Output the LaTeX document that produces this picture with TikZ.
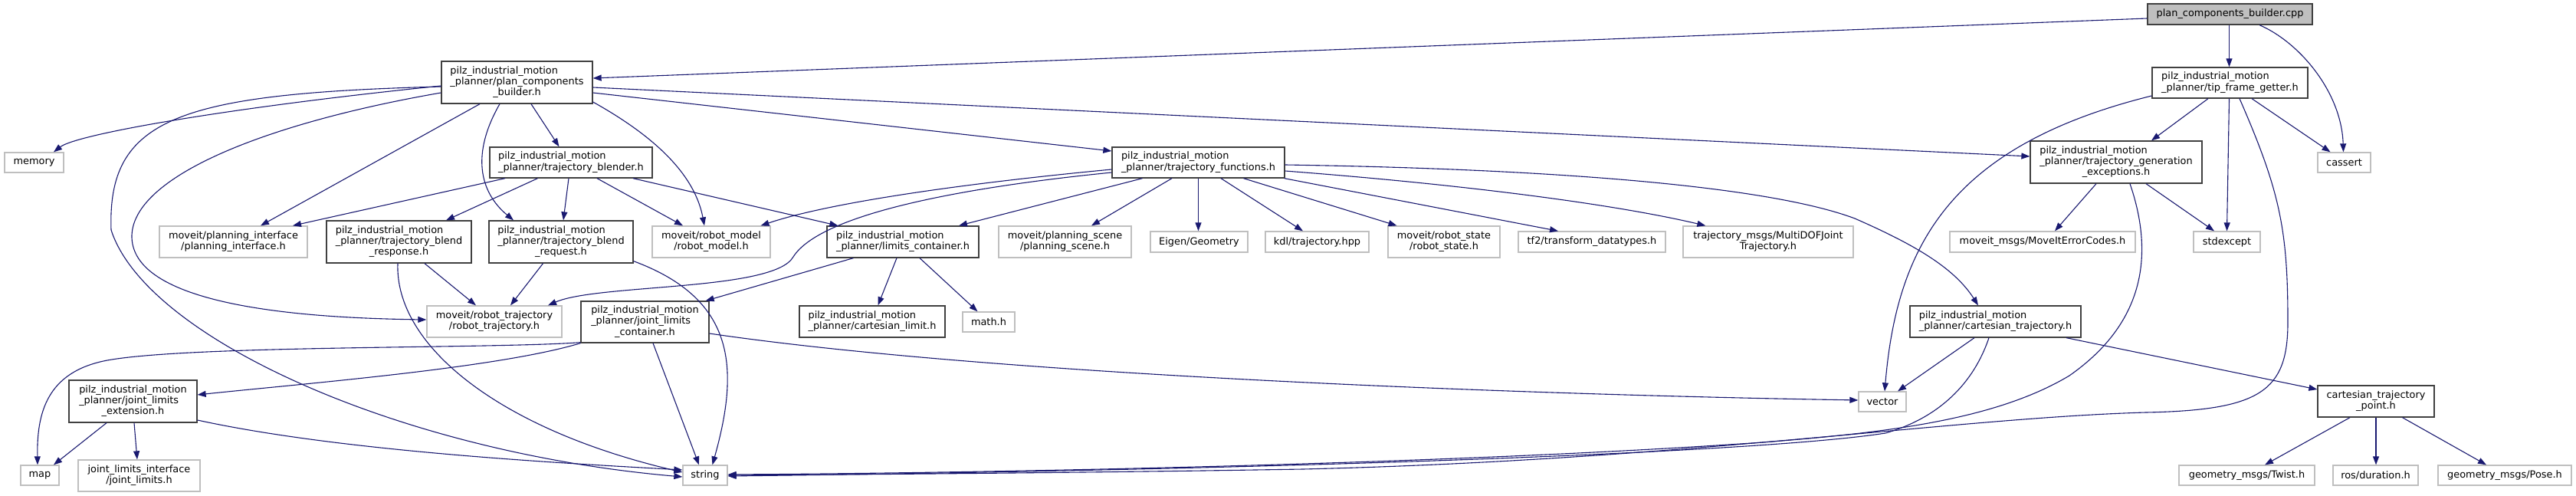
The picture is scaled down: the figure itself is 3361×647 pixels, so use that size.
\documentclass[tikz,border=0pt]{standalone}
\usepackage{fontspec}
\setmainfont{DejaVu Sans}
\usetikzlibrary{arrows.meta}
\definecolor{edgec}{HTML}{191970}
\definecolor{extc}{HTML}{BFBFBF}
\definecolor{docc}{HTML}{404040}
\newcommand\tl[2]{\begin{tabular}{@{}l@{}}#1\\\multicolumn{1}{@{}c@{}}{#2}\end{tabular}}
\newcommand\cl[2]{\begin{tabular}{@{}c@{}}#1\\#2\end{tabular}}
\begin{document}
\begin{tikzpicture}[x=1pt,y=-1pt,
  box/.style={rectangle,inner sep=0pt,fill=white,line width=1.3pt,
    font=\fontsize{12.9}{14.3}\selectfont},
  dnode/.style={box,draw=docc},
  xnode/.style={box,draw=extc},
  cnode/.style={box,draw=docc,fill=extc},
  wh/.style 2 args={minimum width=#1,minimum height=#2},
  edge/.style={draw=edgec,line width=1.1pt,-{Triangle[length=11pt,width=8pt]},fill=none}]
\useasboundingbox (0,0) rectangle (3361,647);
% nodes
\node[cnode,wh={215}{27}] (cpp) at (2909.5,18.5) {plan\_components\_builder.cpp};
\node[dnode,wh={197}{55}] (pcb) at (674.5,107.5) {\tl{pilz\_industrial\_motion\\\_planner/plan\_components}{\_builder.h}};
\node[dnode,wh={203}{40}] (tip) at (2909.5,108) {\tl{pilz\_industrial\_motion}{\_planner/tip\_frame\_getter.h}};
\node[xnode,wh={77}{26}] (memory) at (44.5,212) {memory};
\node[dnode,wh={212}{40}] (blender) at (745,212) {\tl{pilz\_industrial\_motion}{\_planner/trajectory\_blender.h}};
\node[dnode,wh={225}{40}] (tfunc) at (1563.5,212) {\tl{pilz\_industrial\_motion}{\_planner/trajectory\_functions.h}};
\node[dnode,wh={224}{55}] (genexc) at (2761,211.5) {\tl{pilz\_industrial\_motion\\\_planner/trajectory\_generation}{\_exceptions.h}};
\node[xnode,wh={69}{26}] (cassert) at (3058.5,212) {cassert};
\node[xnode,wh={193}{41}] (planint) at (304.5,315.5) {\cl{moveit/planning\_interface}{/planning\_interface.h}};
\node[dnode,wh={189}{55}] (bresp) at (520.5,315.5) {\tl{pilz\_industrial\_motion\\\_planner/trajectory\_blend}{\_response.h}};
\node[dnode,wh={188}{55}] (breq) at (732,315.5) {\tl{pilz\_industrial\_motion\\\_planner/trajectory\_blend}{\_request.h}};
\node[xnode,wh={154}{41}] (robmodel) at (928,315.5) {\cl{moveit/robot\_model}{/robot\_model.h}};
\node[dnode,wh={198}{41}] (limcont) at (1178,315.5) {\tl{pilz\_industrial\_motion}{\_planner/limits\_container.h}};
\node[xnode,wh={173}{41}] (planscene) at (1389.5,315.5) {\cl{moveit/planning\_scene}{/planning\_scene.h}};
\node[xnode,wh={127}{27}] (eigen) at (1564.5,315.5) {Eigen/Geometry};
\node[xnode,wh={135}{27}] (kdl) at (1718.5,315.5) {kdl/trajectory.hpp};
\node[xnode,wh={146}{41}] (robstate) at (1884,315.5) {\cl{moveit/robot\_state}{/robot\_state.h}};
\node[xnode,wh={192}{27}] (tf2) at (2077,315.5) {tf2/transform\_datatypes.h};
\node[xnode,wh={222}{41}] (trajmsgs) at (2307,315.5) {\cl{trajectory\_msgs/MultiDOFJoint}{Trajectory.h}};
\node[xnode,wh={242}{27}] (moveiterr) at (2665,315.5) {moveit\_msgs/MoveItErrorCodes.h};
\node[xnode,wh={87}{27}] (stdexcept) at (2905.5,315.5) {stdexcept};
\node[xnode,wh={176}{41}] (robtraj) at (645,419.5) {\cl{moveit/robot\_trajectory}{/robot\_trajectory.h}};
\node[dnode,wh={167}{54}] (jlcont) at (841.5,420) {\tl{pilz\_industrial\_motion\\\_planner/joint\_limits}{\_container.h}};
\node[dnode,wh={190}{41}] (cartlimit) at (1138,419.5) {\tl{pilz\_industrial\_motion}{\_planner/cartesian\_limit.h}};
\node[xnode,wh={68}{26}] (math) at (1290,420) {math.h};
\node[dnode,wh={223}{41}] (carttraj) at (2603.5,419.5) {\tl{pilz\_industrial\_motion}{\_planner/cartesian\_trajectory.h}};
\node[dnode,wh={167}{55}] (jlext) at (173.5,523.5) {\tl{pilz\_industrial\_motion\\\_planner/joint\_limits}{\_extension.h}};
\node[xnode,wh={62}{26}] (vector) at (2456,524) {vector};
\node[dnode,wh={152}{41}] (ctpoint) at (3100,523.5) {\tl{cartesian\_trajectory}{\_point.h}};
\node[xnode,wh={50}{26}] (map) at (52,620) {map};
\node[xnode,wh={159}{41}] (jlimits) at (181.5,620.5) {\cl{joint\_limits\_interface}{/joint\_limits.h}};
\node[xnode,wh={58}{26}] (string) at (920,620) {string};
\node[xnode,wh={177}{26}] (twist) at (2931.5,620) {geometry\_msgs/Twist.h};
\node[xnode,wh={111}{26}] (duration) at (3099.5,620) {ros/duration.h};
\node[xnode,wh={174}{26}] (pose) at (3268,620) {geometry\_msgs/Pose.h};
% edges
\path[edge] ([yshift=-5.5]cpp.west) -- ([yshift=5.5]pcb.east);
\path[edge] ([xshift=-1]cpp.south) -- ([xshift=-1]tip.north);
\path[edge] ([xshift=38.5]cpp.south) .. controls (3000,55) and (3055,120) .. ([xshift=-1]cassert.north);
\path[edge] ([yshift=-4.5]pcb.west) .. controls (300,140) and (100,175) .. ([xshift=25.5]memory.north);
\path[edge] ([yshift=-5.5]pcb.west) .. controls (230,122) and (140,155) .. (145,300) .. controls (190,440) and (520,590) .. ([yshift=-2]string.west);
\path[edge] ([yshift=-13.5]pcb.west) .. controls (350,160) and (170,230) .. (172,310) .. controls (175,400) and (400,415) .. ([yshift=2.5]robtraj.west);
\path[edge] ([xshift=-48.5]pcb.south) -- ([xshift=35.5]planint.north);
\path[edge] ([xshift=-22.5]pcb.south) .. controls (615,200) and (625,250) .. ([xshift=-62]breq.north);
\path[edge] ([xshift=18.5]pcb.south) -- ([xshift=-15.5]blender.north);
\path[edge] ([yshift=-25.5]pcb.east) .. controls (840,170) and (905,220) .. ([xshift=-9]robmodel.north);
\path[edge] ([yshift=-13.5]pcb.east) -- ([yshift=15]tfunc.west);
\path[edge] ([yshift=-6.5]pcb.east) -- ([yshift=7.5]genexc.west);
\path[edge] ([xshift=-86]blender.south) -- ([xshift=77.5]planint.north);
\path[edge] ([xshift=-43.5]blender.south) -- ([xshift=61.5]bresp.north);
\path[edge] ([xshift=-3]blender.south) -- ([xshift=3]breq.north);
\path[edge] ([xshift=34]blender.south) -- ([xshift=-37]robmodel.north);
\path[edge] ([xshift=81]blender.south) -- ([xshift=15]limcont.north west);
\path[edge] ([xshift=33.5]bresp.south) -- ([xshift=-24]robtraj.north);
\path[edge] ([xshift=-1.5]bresp.south) .. controls (515,450) and (650,560) .. ([yshift=4]string.west);
\path[edge] ([xshift=-23.5]breq.south) -- ([xshift=21]robtraj.north);
\path[edge] ([yshift=3]breq.south east) .. controls (960,390) and (965,480) .. ([xshift=9.5]string.north);
\path[edge] ([xshift=-73]tfunc.south) -- ([xshift=73]limcont.north);
\path[edge] ([xshift=-34.5]tfunc.south) -- ([xshift=34.5]planscene.north);
\path[edge] (tfunc.south) -- ([xshift=-1]eigen.north);
\path[edge] ([xshift=29.5]tfunc.south) -- ([xshift=-18.5]kdl.north);
\path[edge] ([xshift=59]tfunc.south) -- ([xshift=-61.5]robstate.north);
\path[edge] ([xshift=-1]tfunc.south east) -- ([xshift=-44]tf2.north);
\path[edge] ([yshift=-11]tfunc.east) .. controls (1900,240) and (2100,265) .. ([xshift=30]trajmsgs.north west);
\path[edge] ([yshift=-3]tfunc.east) .. controls (2000,220) and (2300,240) .. (2420,285) .. controls (2500,320) and (2550,350) .. ([xshift=-22.5]carttraj.north);
\path[edge] ([yshift=-9]tfunc.west) .. controls (1250,240) and (1080,265) .. ([xshift=64.5]robmodel.north);
\path[edge] ([yshift=-13]tfunc.west) .. controls (1250,245) and (1070,280) .. (1035,335) .. controls (1010,380) and (780,370) .. ([xshift=70]robtraj.north);
\path[edge] ([xshift=35]limcont.south west) -- ([xshift=-5]jlcont.north east);
\path[edge] ([xshift=-8]limcont.south) -- ([xshift=7.5]cartlimit.north);
\path[edge] ([xshift=22]limcont.south) -- ([xshift=-14.5]math.north);
\path[edge] (jlcont.south west) .. controls (650,480) and (400,500) .. ([yshift=8.5]jlext.east);
\path[edge] ([yshift=1]jlcont.south west) .. controls (650,455) and (250,450) .. (140,470) .. controls (60,485) and (48,540) .. ([xshift=-3]map.north);
\path[edge] ([xshift=10.5]jlcont.south) -- ([xshift=-8]string.north);
\path[edge] ([yshift=-15]jlcont.east) .. controls (1300,490) and (2000,515) .. ([yshift=2]vector.west);
\path[edge] ([xshift=-34.5]jlext.south) -- ([xshift=18]map.north);
\path[edge] ([xshift=1.5]jlext.south) -- ([xshift=-2.5]jlimits.north);
\path[edge] ([yshift=-24.5]jlext.east) .. controls (450,590) and (750,605) .. ([yshift=7]string.west);
\path[edge] ([xshift=-28.5]tip.south) -- ([xshift=46]genexc.north);
\path[edge] ([xshift=-1]tip.south) -- (stdexcept.north);
\path[edge] ([xshift=28.5]tip.south) -- ([xshift=-18]cassert.north);
\path[edge] ([yshift=-17]tip.west) .. controls (2545,190) and (2475,320) .. ([xshift=3]vector.north);
\path[edge] ([xshift=12.5]tip.south) .. controls (2975,250) and (2985,300) .. (2985,420) .. controls (2985,510) and (2950,535) .. (2800,538) .. controls (2550,545) and (2200,600) .. (1700,612) .. controls (1400,617) and (1100,619) .. (string.east);
\path[edge] ([xshift=-26]genexc.south) -- ([xshift=16]moveiterr.north);
\path[edge] ([xshift=39]genexc.south) -- ([xshift=-16.5]stdexcept.north);
\path[edge] ([xshift=18]genexc.south) .. controls (2810,330) and (2800,420) .. (2700,490) .. controls (2600,550) and (2450,565) .. (2300,577) .. controls (1900,605) and (1300,617) .. ([yshift=1]string.east);
\path[edge] ([xshift=-27.5]carttraj.south) -- ([xshift=20]vector.north);
\path[edge] ([xshift=-8.5]carttraj.south) .. controls (2575,500) and (2530,545) .. (2460,565) .. controls (2300,590) and (1700,612) .. ([yshift=-1]string.east);
\path[edge] ([xshift=92.5]carttraj.south) -- ([yshift=15.5]ctpoint.west);
\path[edge] ([xshift=-34]ctpoint.south) -- ([xshift=23.5]twist.north);
\path[edge] (ctpoint.south) -- ([xshift=0.5]duration.north);
\path[edge] ([xshift=34.5]ctpoint.south) -- ([xshift=-24]pose.north);
\end{tikzpicture}
\end{document}
